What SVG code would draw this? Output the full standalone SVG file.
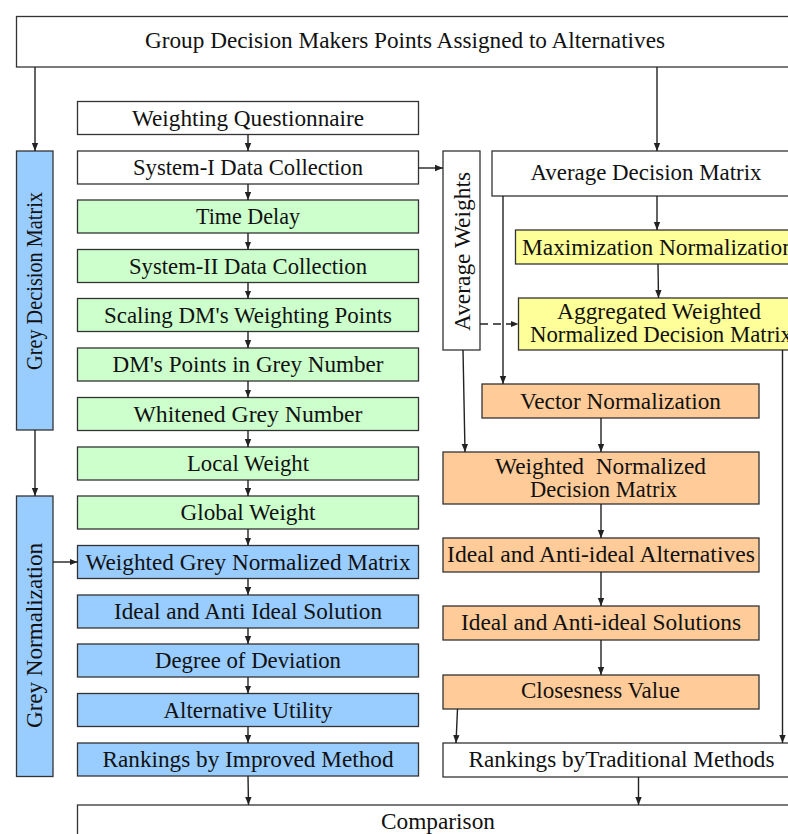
<svg xmlns="http://www.w3.org/2000/svg" width="788" height="834" viewBox="0 0 788 834">
<defs>
<style>
rect{stroke:#333;stroke-width:1.3}
.w{fill:#fff}.g{fill:#ccffcc}.b{fill:#99ccff}.y{fill:#ffff99}.o{fill:#ffcc99}
text{font-family:"Liberation Serif","Times New Roman",serif;font-size:22.5px;fill:#111;text-anchor:middle}
.c line{stroke:#222;stroke-width:1.4;marker-end:url(#ah)}
.c .d{stroke-dasharray:8,5}
</style>
<marker id="ah" viewBox="0 0 10 10" refX="10" refY="5" markerWidth="8" markerHeight="8" orient="auto" markerUnits="userSpaceOnUse"><path d="M0,1 L10,5 L0,9 z" fill="#222"/></marker>
</defs>
<rect width="788" height="834" fill="#fff" style="stroke:none"/>

<g id="top"><rect class="w" x="16.5" y="16.5" width="790" height="50.5"/><text x="405" y="47.5" textLength="520" lengthAdjust="spacingAndGlyphs">Group Decision Makers Points Assigned to Alternatives</text></g>

<g id="gdm"><rect class="b" x="16.5" y="151" width="36.5" height="279"/><text transform="translate(41.5,281) rotate(-90)" textLength="178" lengthAdjust="spacingAndGlyphs">Grey Decision Matrix</text></g>
<g id="gn"><rect class="b" x="16.5" y="496" width="36.5" height="280.5"/><text transform="translate(41.5,635.5) rotate(-90)" textLength="185" lengthAdjust="spacingAndGlyphs">Grey Normalization</text></g>

<g id="n1"><rect class="w" x="77.5" y="101.5" width="341" height="33"/><text x="248" y="125.5" textLength="232" lengthAdjust="spacingAndGlyphs">Weighting Questionnaire</text></g>
<g id="n2"><rect class="w" x="77.5" y="151" width="341" height="33"/><text x="248" y="174.5" textLength="230" lengthAdjust="spacingAndGlyphs">System-I Data Collection</text></g>
<g id="n3"><rect class="g" x="77.5" y="200" width="341" height="33"/><text x="248" y="224" textLength="104" lengthAdjust="spacingAndGlyphs">Time Delay</text></g>
<g id="n4"><rect class="g" x="77.5" y="249.5" width="341" height="33"/><text x="248" y="273.5" textLength="238" lengthAdjust="spacingAndGlyphs">System-II Data Collection</text></g>
<g id="n5"><rect class="g" x="77.5" y="298.5" width="341" height="33"/><text x="248" y="322.5" textLength="288" lengthAdjust="spacingAndGlyphs">Scaling DM's Weighting Points</text></g>
<g id="n6"><rect class="g" x="77.5" y="348" width="341" height="33"/><text x="248" y="372" textLength="271" lengthAdjust="spacingAndGlyphs">DM's Points in Grey Number</text></g>
<g id="n7"><rect class="g" x="77.5" y="397.5" width="341" height="33"/><text x="248" y="421.5" textLength="229" lengthAdjust="spacingAndGlyphs">Whitened Grey Number</text></g>
<g id="n8"><rect class="g" x="77.5" y="447" width="341" height="33"/><text x="248" y="471" textLength="122" lengthAdjust="spacingAndGlyphs">Local Weight</text></g>
<g id="n9"><rect class="g" x="77.5" y="496" width="341" height="33"/><text x="248" y="520" textLength="135" lengthAdjust="spacingAndGlyphs">Global Weight</text></g>
<g id="n10"><rect class="b" x="77.5" y="545.5" width="341" height="33"/><text x="248" y="569.5" textLength="325" lengthAdjust="spacingAndGlyphs">Weighted Grey Normalized Matrix</text></g>
<g id="n11"><rect class="b" x="77.5" y="595" width="341" height="33"/><text x="248" y="619" textLength="268" lengthAdjust="spacingAndGlyphs">Ideal and Anti Ideal Solution</text></g>
<g id="n12"><rect class="b" x="77.5" y="644" width="341" height="33"/><text x="248" y="668" textLength="186" lengthAdjust="spacingAndGlyphs">Degree of Deviation</text></g>
<g id="n13"><rect class="b" x="77.5" y="693.5" width="341" height="33"/><text x="248" y="717.5" textLength="169" lengthAdjust="spacingAndGlyphs">Alternative Utility</text></g>
<g id="n14"><rect class="b" x="77.5" y="743" width="341" height="33"/><text x="248" y="767" textLength="291" lengthAdjust="spacingAndGlyphs">Rankings by Improved Method</text></g>

<g id="cmp"><rect class="w" x="77.5" y="805" width="740" height="60"/><text x="438" y="828.5" textLength="114" lengthAdjust="spacingAndGlyphs">Comparison</text></g>

<g id="aw"><rect class="w" x="443" y="151" width="37" height="199"/><text transform="translate(469.5,251.5) rotate(-90)" textLength="159" lengthAdjust="spacingAndGlyphs">Average Weights</text></g>
<g id="adm"><rect class="w" x="492" y="151" width="320" height="45"/><text x="646" y="180" textLength="231" lengthAdjust="spacingAndGlyphs">Average Decision Matrix</text></g>
<g id="mn"><rect class="y" x="515.5" y="230" width="286" height="34"/><text x="658" y="254.5" textLength="272" lengthAdjust="spacingAndGlyphs">Maximization Normalization</text></g>
<g id="awn"><rect class="y" x="518.5" y="298" width="284" height="52"/><text x="659" y="319" textLength="204" lengthAdjust="spacingAndGlyphs">Aggregated Weighted</text><text x="661" y="341.5" textLength="262" lengthAdjust="spacingAndGlyphs">Normalized Decision Matrix</text></g>
<g id="vn"><rect class="o" x="482" y="384" width="277" height="34"/><text x="620.5" y="408.5" textLength="201" lengthAdjust="spacingAndGlyphs">Vector Normalization</text></g>
<g id="wnd"><rect class="o" x="443" y="452" width="316" height="52"/><text x="600.5" y="473.5" textLength="211" lengthAdjust="spacingAndGlyphs">Weighted&#160; Normalized</text><text x="603.5" y="496.5" textLength="147" lengthAdjust="spacingAndGlyphs">Decision Matrix</text></g>
<g id="iaa"><rect class="o" x="443" y="538" width="316" height="34"/><text x="601" y="562" textLength="308" lengthAdjust="spacingAndGlyphs">Ideal and Anti-ideal Alternatives</text></g>
<g id="ias"><rect class="o" x="443" y="606" width="316" height="34"/><text x="601" y="630" textLength="280" lengthAdjust="spacingAndGlyphs">Ideal and Anti-ideal Solutions</text></g>
<g id="cv"><rect class="o" x="443" y="675" width="316" height="34"/><text x="600.5" y="698" textLength="159" lengthAdjust="spacingAndGlyphs">Closesness Value</text></g>
<g id="rtm"><rect class="w" x="443" y="743" width="360" height="34"/><text x="621.5" y="767" textLength="306" lengthAdjust="spacingAndGlyphs">Rankings byTraditional Methods</text></g>

<g class="c" id="connectors">
<line x1="35" y1="67" x2="35" y2="151"/>
<line x1="657" y1="67" x2="657" y2="151"/>
<line x1="35" y1="430" x2="35" y2="496"/>
<line x1="53" y1="562" x2="77.5" y2="562"/>
<line x1="248" y1="134.5" x2="248" y2="151"/>
<line x1="248" y1="184" x2="248" y2="200"/>
<line x1="248" y1="233" x2="248" y2="249.5"/>
<line x1="248" y1="282.5" x2="248" y2="298.5"/>
<line x1="248" y1="331.5" x2="248" y2="348"/>
<line x1="248" y1="381" x2="248" y2="397.5"/>
<line x1="248" y1="430.5" x2="248" y2="447"/>
<line x1="248" y1="480" x2="248" y2="496"/>
<line x1="248" y1="529" x2="248" y2="545.5"/>
<line x1="248" y1="578.5" x2="248" y2="595"/>
<line x1="248" y1="628" x2="248" y2="644"/>
<line x1="248" y1="677" x2="248" y2="693.5"/>
<line x1="248" y1="726.5" x2="248" y2="743"/>
<line x1="248" y1="776" x2="248.5" y2="805"/>
<line x1="418.5" y1="168" x2="443" y2="168"/>
<line x1="657" y1="196" x2="657" y2="230"/>
<line x1="658" y1="264" x2="658.5" y2="298"/>
<line class="d" x1="480" y1="324" x2="518.5" y2="324"/>
<line x1="503" y1="196" x2="503" y2="384"/>
<line x1="463" y1="350" x2="465" y2="452"/>
<line x1="601" y1="418" x2="601" y2="452"/>
<line x1="601" y1="504" x2="601" y2="538"/>
<line x1="601" y1="572" x2="601" y2="606"/>
<line x1="601" y1="640" x2="601" y2="675"/>
<line x1="457.5" y1="709" x2="456" y2="743"/>
<line x1="782.5" y1="350" x2="782.5" y2="743"/>
<line x1="638.5" y1="777" x2="638.5" y2="805"/>
</g>
</svg>
